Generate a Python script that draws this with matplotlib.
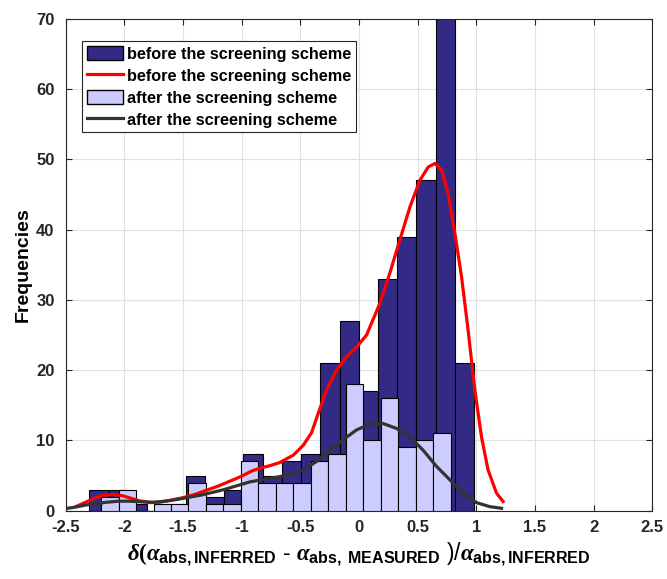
import numpy as np
import matplotlib
matplotlib.use("Agg")
import matplotlib.pyplot as plt
from matplotlib.patches import Patch
from matplotlib.lines import Line2D

# histogram counts (before / after the screening scheme)
before_start, before_width = -2.298, 0.164
before_counts = [3, 3, 1, 0, 1, 5, 2, 3, 8, 5, 7, 8, 21, 27, 17, 33, 39, 47, 73, 21]

after_start, after_width = -2.198, 0.149
after_counts = [2, 3, 0, 1, 1, 4, 1, 1, 7, 4, 4, 4, 7, 8, 18, 10, 16, 9, 10, 11]

# fitted density curves
red_x = [-2.41, -2.33, -2.25, -2.18, -2.10, -2.02, -1.95, -1.87, -1.78, -1.70,
         -1.60, -1.50, -1.40, -1.30, -1.20, -1.10, -1.00, -0.92, -0.844, -0.76,
         -0.674, -0.56, -0.475, -0.404, -0.347, -0.276, -0.191, -0.106, -0.02, 0.065,
         0.135, 0.178, 0.263, 0.348, 0.434, 0.519, 0.59, 0.647, 0.704, 0.76,
         0.817, 0.874, 0.93, 0.987, 1.044, 1.10, 1.172, 1.228]
red_y = [0.6, 1.2, 1.8, 2.2, 2.3, 2.15, 1.8, 1.4, 1.15, 1.2,
         1.5, 1.85, 2.3, 2.9, 3.5, 4.2, 4.9, 5.6, 6.05, 6.4,
         6.85, 7.9, 9.3, 11.1, 13.85, 17.2, 20.0, 21.9, 23.3, 25.0,
         27.8, 29.5, 33.8, 38.5, 43.2, 47.0, 48.9, 49.4, 48.5, 45.1,
         39.5, 33.3, 25.7, 17.2, 10.5, 5.8, 2.5, 1.3]

gray_x = [-2.50, -2.42, -2.33, -2.25, -2.15, -2.05, -1.95, -1.85, -1.75, -1.65,
          -1.55, -1.45, -1.35, -1.25, -1.15, -1.05, -0.929, -0.759, -0.589, -0.475,
          -0.361, -0.248, -0.135, -0.02, 0.093, 0.206, 0.32, 0.434, 0.547, 0.661,
          0.774, 0.888, 1.002, 1.115, 1.215]
gray_y = [0.3, 0.5, 0.8, 1.0, 1.2, 1.35, 1.35, 1.25, 1.2, 1.35,
          1.6, 1.9, 2.2, 2.6, 3.0, 3.5, 4.1, 4.6, 5.1, 5.8,
          7.0, 8.6, 10.1, 11.5, 12.3, 12.4, 11.7, 10.5, 8.6, 6.3,
          4.4, 2.5, 1.14, 0.57, 0.34]

dark = "#332a85"
light = "#ccccff"

plt.rcParams["font.family"] = ["Liberation Sans", "DejaVu Sans"]
plt.rcParams["font.weight"] = "bold"
plt.rcParams["mathtext.fontset"] = "custom"
plt.rcParams["mathtext.rm"] = "Liberation Serif"
plt.rcParams["mathtext.it"] = "Liberation Serif:italic"
plt.rcParams["mathtext.bf"] = "Liberation Sans:bold"

fig = plt.figure(figsize=(6.67, 5.79), dpi=100)
ax = fig.add_axes([0.0984, 0.118, 0.8796, 0.8497])

b_left = before_start + before_width * np.arange(len(before_counts))
a_left = after_start + after_width * np.arange(len(after_counts))

ax.bar(b_left, before_counts, width=before_width, align="edge",
       color=dark, edgecolor="black", linewidth=0.8, zorder=2)
ax.bar(a_left, after_counts, width=after_width, align="edge",
       color=light, edgecolor="black", linewidth=0.8, zorder=3)
ax.plot(red_x, red_y, color="red", lw=2.3, zorder=4, solid_joinstyle="round")
ax.plot(gray_x, gray_y, color="#333333", lw=2.3, zorder=5, solid_joinstyle="round")

ax.set_xlim(-2.5, 2.5)
ax.set_ylim(0, 70)
ax.set_xticks(np.arange(-2.5, 2.51, 0.5))
ax.set_xticklabels(["-2.5", "-2", "-1.5", "-1", "-0.5", "0", "0.5", "1", "1.5", "2", "2.5"])
ax.set_yticks(np.arange(0, 71, 10))
ax.tick_params(direction="in", top=True, right=True, length=4, width=0.8,
               labelsize=12, colors="#262626")
ax.tick_params(axis="x", pad=7)
ax.tick_params(axis="y", pad=8)
for lab in ax.get_xticklabels() + ax.get_yticklabels():
    lab.set_fontweight("bold")
ax.grid(True, color="#e0e0e0", linewidth=0.8, zorder=0)
ax.set_axisbelow(True)
for s in ax.spines.values():
    s.set_color("#262626")
    s.set_linewidth(0.8)

ax.set_ylabel("Frequencies", fontsize=14, fontweight="bold", labelpad=3)
ax.set_xlabel(r"$\delta(\alpha_{\mathbf{abs,INFERRED}}$ - $\alpha_{\mathbf{abs,\ MEASURED}}$ )/$\alpha_{\mathbf{abs,INFERRED}}$",
              fontsize=16.5, labelpad=4)

handles = [Patch(facecolor=dark, edgecolor="black"),
           Line2D([], [], color="red", lw=2.3),
           Patch(facecolor=light, edgecolor="black"),
           Line2D([], [], color="#333333", lw=2.3)]
labels = ["before the screening scheme", "before the screening scheme",
          "after the screening scheme", "after the screening scheme"]
leg = ax.legend(handles, labels, loc="upper left", bbox_to_anchor=(0.028, 0.955),
                fancybox=False, framealpha=1, edgecolor="#262626",
                prop={"weight": "bold", "size": 11.7}, borderpad=0.3,
                labelspacing=0.38, handlelength=2.2, handleheight=1.0,
                handletextpad=0.25, borderaxespad=0)
leg.get_frame().set_linewidth(0.8)

fig.savefig("out.png", dpi=100)
